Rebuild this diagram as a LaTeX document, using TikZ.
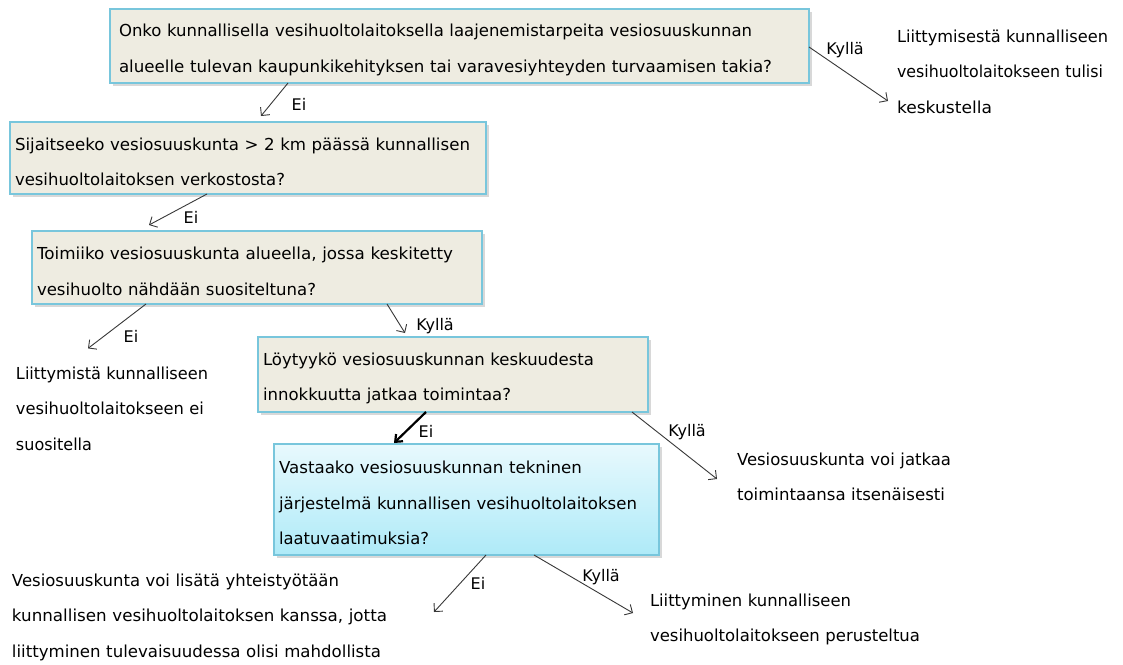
\documentclass[tikz,border=0pt]{standalone}
\usepackage{fontspec}
\setmainfont{DejaVu Sans}
\usetikzlibrary{arrows.meta,shadows,calc}
\definecolor{boxfill}{HTML}{EEECE1}
\definecolor{bordc}{HTML}{78C6DC}
\definecolor{linec}{HTML}{383838}
\definecolor{gtop}{HTML}{E8F9FD}
\definecolor{gbot}{HTML}{AEEAF8}
\newcommand{\fitln}[2]{\resizebox{#1pt}{\height}{#2}}
\newcommand{\tops}{\rule{0pt}{20pt}}
\newcommand{\topt}{\rule{0pt}{13pt}}
\tikzset{
 txt/.style={font=\fontsize{16.5}{35.5}\selectfont},
 qbox/.style={txt, draw=bordc, line width=1.3pt, fill=boxfill, outer sep=0pt, inner ysep=0pt, inner xsep=5pt, anchor=north west, align=left, drop shadow={shadow xshift=2.5pt, shadow yshift=-2.5pt, opacity=0.3}},
 otext/.style={txt, anchor=north west, inner sep=0pt, outer sep=0pt, align=left, text width=400pt},
 lbl/.style={font=\fontsize{16}{19}\selectfont, inner sep=0pt},
 conn/.style={draw=linec, line width=0.9pt, -{Straight Barb[length=6pt,width=12pt]}},
 boldconn/.style={draw=black, line width=2.2pt, -{Straight Barb[length=6pt,width=10pt]}},
}
\begin{document}
\begin{tikzpicture}[x=1pt,y=-1pt]
\fill[white] (0,0) rectangle (1123,664);
\useasboundingbox (0,0) rectangle (1123,664);

% question boxes
\node[qbox, minimum width=699pt, minimum height=74pt, text width=681pt, inner xsep=9pt] (b1) at (110,9)
 {\tops\fitln{633}{Onko kunnallisella vesihuoltolaitoksella laajenemistarpeita vesiosuuskunnan}\\\fitln{653}{alueelle tulevan kaupunkikehityksen tai varavesiyhteyden turvaamisen takia?}};
\node[qbox, minimum width=476pt, minimum height=72pt, text width=466pt] (b2) at (10,122)
 {\tops\fitln{455}{Sijaitseeko vesiosuuskunta > 2 km päässä kunnallisen}\\\fitln{270}{vesihuoltolaitoksen verkostosta?}};
\node[qbox, minimum width=450pt, minimum height=73pt, text width=440pt] (b3) at (32,231)
 {\tops\fitln{416}{Toimiiko vesiosuuskunta alueella, jossa keskitetty}\\\fitln{279}{vesihuolto nähdään suositeltuna?}};
\node[qbox, minimum width=390pt, minimum height=75pt, text width=380pt] (b4) at (258,337)
 {\tops\fitln{331}{Löytyykö vesiosuuskunnan keskuudesta}\\\fitln{248}{innokkuutta jatkaa toimintaa?}};
\node[qbox, top color=gtop, bottom color=gbot, minimum width=385pt, minimum height=111pt, text width=375pt] (b5) at (274,444)
 {\tops\fitln{303}{Vastaako vesiosuuskunnan tekninen}\\\fitln{358}{järjestelmä kunnallisen vesihuoltolaitoksen}\\\fitln{150}{laatuvaatimuksia?}};

% outcome texts
\node[otext] (tLs) at (897,29.4)
 {\topt\fitln{211}{Liittymisestä kunnalliseen}\\\fitln{206}{vesihuoltolaitokseen tulisi}\\\fitln{95}{keskustella}};
\node[otext] (tLm) at (16,366.4)
 {\topt\fitln{192}{Liittymistä kunnalliseen}\\\fitln{188}{vesihuoltolaitokseen ei}\\\fitln{76}{suositella}};
\node[otext] (tV) at (737,452.4)
 {\topt\fitln{214}{Vesiosuuskunta voi jatkaa}\\\fitln{208}{toimintaansa itsenäisesti}};
\node[otext] (tB) at (12,573.4)
 {\topt\fitln{327}{Vesiosuuskunta voi lisätä yhteistyötään}\\\fitln{375}{kunnallisen vesihuoltolaitoksen kanssa, jotta}\\\fitln{369}{liittyminen tulevaisuudessa olisi mahdollista}};
\node[otext] (tLy) at (650,593.4)
 {\topt\fitln{201}{Liittyminen kunnalliseen}\\\fitln{270}{vesihuoltolaitokseen perusteltua}};

% connectors
\draw[conn] ($(b1.east)+(0,1)$) -- ($(tLs.north west)+(-9,71.6)$);
\draw[conn] ($(b1.south west)+(178,0)$) -- ($(b2.north west)+(251,-6)$);
\draw[conn] ($(b2.south west)+(197,0)$) -- ($(b3.north west)+(117,-6)$);
\draw[conn] ($(b3.south west)+(114,0)$) -- ($(tLm.north west)+(72,-18)$);
\draw[conn] ($(b3.south west)+(355,0)$) -- ($(b4.north west)+(147,-4)$);
\draw[boldconn] ($(b4.south west)+(168,0)$) -- ($(b5.north west)+(120,-1)$);
\draw[conn] ($(b4.south east)+(-16,0)$) -- ($(tV.north west)+(-20,26.6)$);
\draw[conn] ($(b5.south west)+(212,0)$) -- ($(tB.north west)+(422,38.6)$);
\draw[conn] ($(b5.south west)+(260,0)$) -- ($(tLy.north west)+(-17,19.6)$);

% labels
\node[lbl] (l1) at (845,50) {Kyllä};
\node[lbl] (l2) at (299,104) {Ei};
\node[lbl] (l3) at (191,217) {Ei};
\node[lbl] (l4) at (131,336) {Ei};
\node[lbl] (l5) at (435,326) {Kyllä};
\node[lbl] (l6) at (426,431) {Ei};
\node[lbl] (l7) at (687,432) {Kyllä};
\node[lbl] (l8) at (478,583) {Ei};
\node[lbl] (l9) at (601,577) {Kyllä};
\end{tikzpicture}
\end{document}
